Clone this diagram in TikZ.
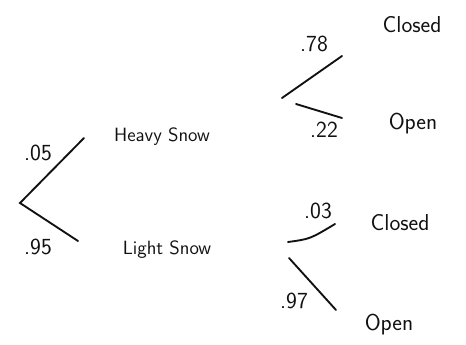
\documentclass[tikz,border=0pt]{standalone}
\usetikzlibrary{positioning}
\definecolor{cink}{HTML}{111111}
\tikzset{
  every picture/.style={font=\sffamily, line width=1.4pt},
  branch/.style={draw=cink, line cap=round},
  outcome/.style={font=\sffamily\LARGE, text=cink, inner sep=1pt},
  event/.style={font=\sffamily\Large, text=cink, inner sep=1pt},
  prob/.style={font=\sffamily\LARGE, text=cink, inner sep=1pt},
}

\begin{document}
\begin{tikzpicture}[x=0.75pt, y=-0.75pt]
  \useasboundingbox (0,0) rectangle (466,345);
  % first split: snow
  \coordinate (root) at (20,203);
  \coordinate (heavyEnd) at (84,138);
  \coordinate (lightEnd) at (78,241);
  \draw[branch] (heavyEnd) -- (root) -- (lightEnd);
  \node[prob] (pHeavy) at (38,153) {.05};
  \node[prob] (pLight) at (38,247) {.95};
  \node[event] (heavy) at (162,137) {Heavy Snow};
  \node[event] (light) at (167,250) {Light Snow};
  % second split after heavy snow
  \coordinate (hcA) at (282,98);
  \coordinate (hcB) at (342,56);
  \coordinate (hoA) at (296,104);
  \coordinate (hoB) at (342,118);
  \draw[branch] (hcA) -- (hcB);
  \draw[branch] (hoA) -- (hoB);
  \node[prob] (pHeavyClosed) at (314,44) {.78};
  \node[prob] (pHeavyOpen) at (324,130) {.22};
  \node[outcome] (closedHeavy) at (412,25) {Closed};
  \node[outcome] (openHeavy) at (413,124) {Open};
  % second split after light snow
  \coordinate (lcA) at (288,242);
  \coordinate (lcB) at (335,224);
  \coordinate (loA) at (289,258);
  \coordinate (loB) at (336,310);
  \draw[branch] (lcA) .. controls (310,239) .. (lcB);
  \draw[branch] (loA) -- (loB);
  \node[prob] (pLightClosed) at (318,211) {.03};
  \node[prob] (pLightOpen) at (294,301) {.97};
  \node[outcome] (closedLight) at (400,223) {Closed};
  \node[outcome] (openLight) at (389,325) {Open};
\end{tikzpicture}
\end{document}
